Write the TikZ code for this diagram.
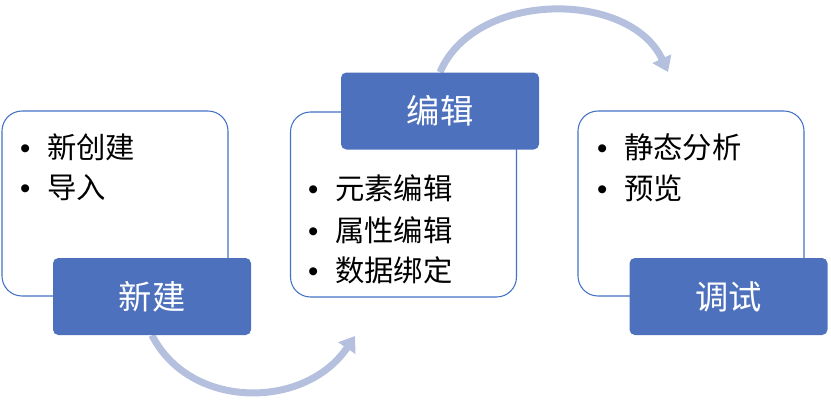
\documentclass[tikz,border=0pt]{standalone}
\usepackage{fontspec}
\setmainfont{Noto Sans CJK SC}
\newfontfamily\bulletfont{Liberation Sans}
\usetikzlibrary{arrows.meta}
\pgfdeclarelayer{background}
\pgfsetlayers{background,main}
\definecolor{boxblue}{HTML}{4E71BE}
\definecolor{panelline}{HTML}{4472C4}
\definecolor{flowblue}{HTML}{B4C0DE}
\newcommand{\bul}{\makebox[33pt][c]{\bulletfont •}}

\begin{document}
\begin{tikzpicture}[x=0.75pt,y=-0.75pt]
	\tikzset{
		panel/.style={draw=panelline,line width=0.8pt,fill=white,rounded corners=15pt,
			minimum width=169.5pt,minimum height=138.75pt},
		stage/.style={fill=boxblue,rounded corners=4pt,text=white,
			minimum width=148.5pt,minimum height=57.75pt,font=\fontsize{25}{30}\selectfont},
		item/.style={anchor=west,inner sep=0pt,font=\fontsize{22}{26}\selectfont},
		flow/.style={draw=flowblue,line width=5.25pt,-{Triangle[length=11pt,width=15pt]}}
	}
	\useasboundingbox (0,0) rectangle (831,408);
	% panels
	\node[panel] (newpanel) at (115,203.5) {};
	\node[panel] (editpanel) at (403.5,204.5) {};
	\node[panel] (debugpanel) at (691,203.5) {};
	% labels
	\node[stage] (new) at (152,296.5) {新建};
	\node[stage] (edit) at (440,111) {编辑};
	\node[stage] (debug) at (728.5,296.5) {调试};
	% items
	\node[item] (new1) at (3,147) {\bul 新创建};
	\node[item] (new2) at (3,188) {\bul 导入};
	\node[item] (edit1) at (291,188) {\bul 元素编辑};
	\node[item] (edit2) at (291,230) {\bul 属性编辑};
	\node[item] (edit3) at (291,270) {\bul 数据绑定};
	\node[item] (debug1) at (580,147) {\bul 静态分析};
	\node[item] (debug2) at (580,188) {\bul 预览};
	% arrows, under the boxes
	\coordinate (editin) at (355,336);
	\coordinate (debugin) at (668,72);
	\begin{pgfonlayer}{background}
	\draw[flow] (new.south) .. controls (190,410) and (305,410) .. (editin);
	\draw[flow] (edit.north) .. controls (475,-10) and (630,-10) .. (debugin);
	\end{pgfonlayer}
\end{tikzpicture}
\end{document}
